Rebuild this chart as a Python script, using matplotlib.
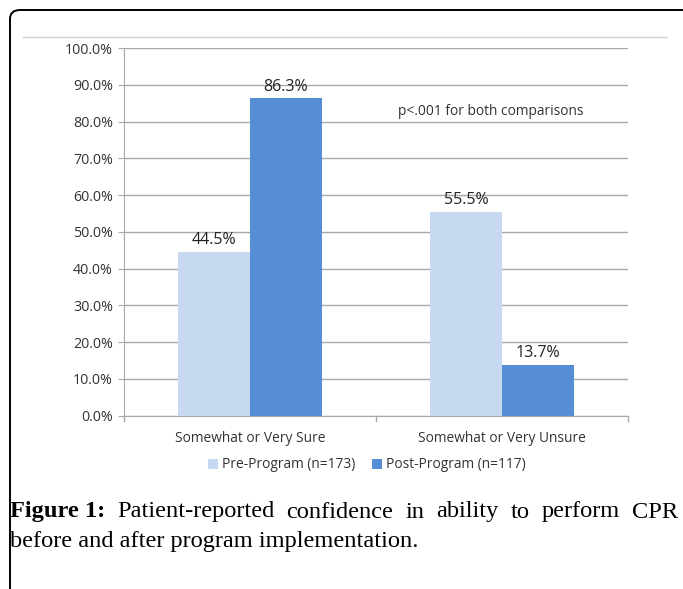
import matplotlib.pyplot as plt
import numpy as np
from matplotlib.patches import FancyBboxPatch
from matplotlib.lines import Line2D

# data
categories = ['Somewhat or Very Sure', 'Somewhat or Very Unsure']
pre_values = [44.5, 55.5]
post_values = [86.3, 13.7]
series_names = ['Pre-Program (n=173)', 'Post-Program (n=117)']
yticks = [0, 10, 20, 30, 40, 50, 60, 70, 80, 90, 100]

pre_color = '#C6D9F1'
post_color = '#558ED5'
sans = ['Open Sans', 'DejaVu Sans']

W, H = 683, 589
fig = plt.figure(figsize=(W / 100, H / 100), dpi=100)

# frame around the figure panel
frame = FancyBboxPatch((10 / W, -0.2), 1.2, (H - 10) / H + 0.2,
                       boxstyle='round,pad=0,rounding_size=0.015',
                       transform=fig.transFigure, fill=False,
                       edgecolor='black', linewidth=1.4)
fig.patches.append(frame)
fig.add_artist(Line2D([23 / W, 667 / W], [1 - 37 / H, 1 - 37 / H],
                      transform=fig.transFigure, color='#d0d0d0', lw=1))

ax = fig.add_axes([124 / W, 1 - 415.5 / H, (628 - 124) / W, (415.5 - 48) / H])
x = np.arange(len(categories))
w = 0.286
b1 = ax.bar(x - w / 2, pre_values, w, color=pre_color, label=series_names[0], zorder=3)
b2 = ax.bar(x + w / 2, post_values, w, color=post_color, label=series_names[1], zorder=3)

for bars, vals in [(b1, pre_values), (b2, post_values)]:
    for r, v in zip(bars, vals):
        ax.text(r.get_x() + r.get_width() / 2, v + 1.0, f'{v:.1f}%',
                ha='center', va='bottom', fontsize=11.5, family=sans, color='#222222')

ax.set_xlim(-0.5, 1.5)
ax.set_ylim(0, 100)
ax.set_yticks(yticks)
ax.set_yticklabels([f'{t:.1f}%' for t in yticks], fontsize=10.3, family=sans, color='#333333')
ax.yaxis.grid(True, color='#a8a8a8', lw=1, zorder=0)
ax.set_xticks(x)
ax.set_xticklabels(categories, fontsize=9.9, family=sans, color='#333333')
ax.tick_params(axis='x', length=0, pad=11)
ax.tick_params(axis='y', length=4, color='#a8a8a8', pad=4)
# category separator ticks
for xx in [-0.5, 0.5, 1.5]:
    ax.plot([xx, xx], [0, -1.5], color='#a8a8a8', lw=1, clip_on=False)
for s in ['top', 'right']:
    ax.spines[s].set_visible(False)
ax.spines['left'].set_color('#a8a8a8')
ax.spines['bottom'].set_color('#a8a8a8')

ax.text(0.587, 82.6, 'p<.001 for both comparisons', fontsize=9.9, family=sans,
        color='#333333', ha='left', va='center')

leg = fig.legend(loc='center', bbox_to_anchor=(367 / W, 1 - 465 / H), ncol=2,
                 frameon=False, handlelength=0.7, handleheight=0.7,
                 handletextpad=0.3, columnspacing=1.2, prop={'family': sans, 'size': 9.9})
for t in leg.get_texts():
    t.set_color('#333333')

# caption with justified first line
serif = ['Liberation Serif', 'DejaVu Serif']
fs = 17.6
line1 = [('Figure 1:', True), ('Patient-reported', False), ('confidence', False),
         ('in', False), ('ability', False), ('to', False), ('perform', False), ('CPR', False)]
x0, x1 = 10, 678
y1 = 1 - 512 / H
fig.canvas.draw()
r = fig.canvas.get_renderer()
arts = []
for word, bold in line1:
    t = fig.text(0, y1, word, fontsize=fs, family=serif,
                 fontweight='bold' if bold else 'normal', va='center', ha='left')
    arts.append(t)
widths = [a.get_window_extent(r).width for a in arts]
gap = (x1 - x0 - sum(widths)) / (len(arts) - 1)
pos = x0
for a, wd in zip(arts, widths):
    a.set_x(pos / W)
    pos += wd + gap
fig.text(x0 / W, 1 - 542 / H, 'before and after program implementation.',
         fontsize=fs, family=serif, va='center', ha='left')

fig.savefig('out.png', dpi=100)
